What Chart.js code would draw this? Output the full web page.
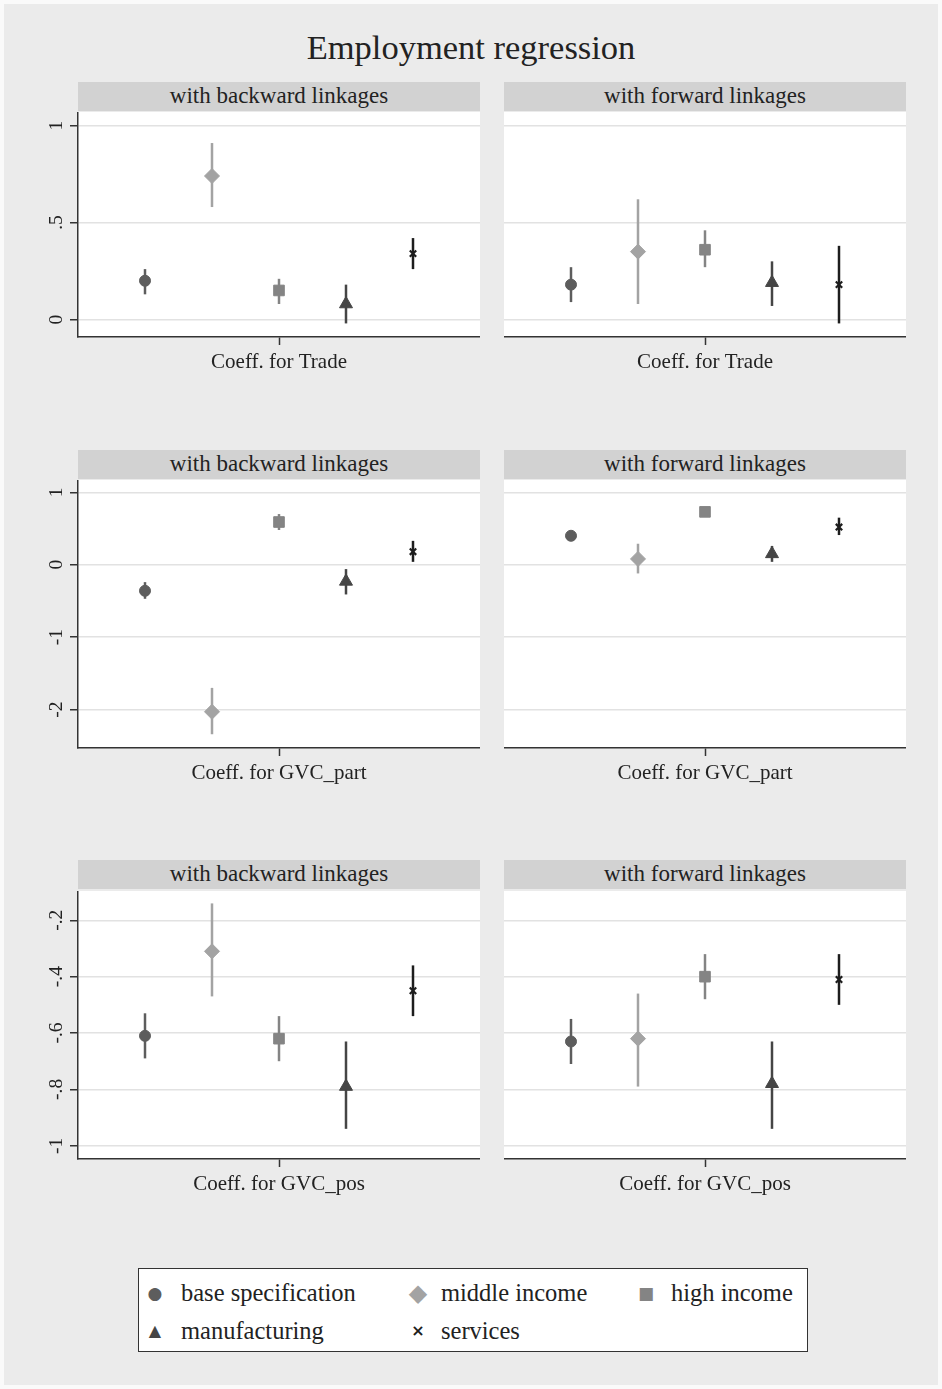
<!DOCTYPE html>
<html>
<head>
<meta charset="utf-8">
<title>Employment regression</title>
<script src="https://cdn.jsdelivr.net/npm/chart.js@4.4.0/dist/chart.umd.min.js"></script>
<style>
body { margin: 0; background: #fafafa; }
#page {
    position: absolute; left: 4px; top: 4px; width: 934px; height: 1381px;
    background: #ebebeb; font-family: "Liberation Serif", "Times New Roman", serif; color: #222;
}
#title { position: absolute; left: 0; width: 934px; top: 24px; text-align: center; font-size: 34.5px; }
.strip {
    position: absolute; height: 29px; background: #d2d2d2;
    text-align: center; font-size: 23px; line-height: 27px;
}
.panel { position: absolute; }
#legend {
    position: absolute; left: 134px; top: 1264px; width: 670px; height: 84px;
    background: #fff; border: 1.5px solid #333; box-sizing: border-box;
}
.mk { position: absolute; width: 30px; margin-left: -15px; text-align: center; font-family: "DejaVu Sans"; line-height: 30px; }
.lab { position: absolute; font-size: 24.5px; line-height: 30px; white-space: nowrap; }
</style>
</head>
<body>
<div id="page">
    <div id="title">Employment regression</div>

    <div class="strip" style="left:74px; width:402px; top:78px;">with backward linkages</div>
    <div class="strip" style="left:500px; width:402px; top:78px;">with forward linkages</div>
    <canvas class="panel" id="c1" width="450" height="270" style="left:26px; top:108px;"></canvas>
    <canvas class="panel" id="c2" width="402" height="270" style="left:500px; top:108px;"></canvas>

    <div class="strip" style="left:74px; width:402px; top:446px;">with backward linkages</div>
    <div class="strip" style="left:500px; width:402px; top:446px;">with forward linkages</div>
    <canvas class="panel" id="c3" width="450" height="313" style="left:26px; top:476px;"></canvas>
    <canvas class="panel" id="c4" width="402" height="313" style="left:500px; top:476px;"></canvas>

    <div class="strip" style="left:74px; width:402px; top:856px;">with backward linkages</div>
    <div class="strip" style="left:500px; width:402px; top:856px;">with forward linkages</div>
    <canvas class="panel" id="c5" width="450" height="313" style="left:26px; top:887px;"></canvas>
    <canvas class="panel" id="c6" width="402" height="313" style="left:500px; top:887px;"></canvas>

    <div id="legend"></div>
</div>

<script>
// series (one marker + interval per panel)
const seriesNames = ['base specification', 'middle income', 'high income', 'manufacturing', 'services'];
const seriesPos = [1, 2, 3, 4, 5];

// Coeff. for Trade
const tradeBackEst = [0.20, 0.74, 0.15, 0.08, 0.34];
const tradeBackLo  = [0.13, 0.58, 0.08, -0.02, 0.26];
const tradeBackHi  = [0.26, 0.91, 0.21, 0.18, 0.42];
const tradeFwdEst  = [0.18, 0.35, 0.36, 0.19, 0.18];
const tradeFwdLo   = [0.09, 0.08, 0.27, 0.07, -0.02];
const tradeFwdHi   = [0.27, 0.62, 0.46, 0.30, 0.38];

// Coeff. for GVC_part
const partBackEst = [-0.36, -2.03, 0.59, -0.23, 0.18];
const partBackLo  = [-0.47, -2.34, 0.48, -0.41, 0.04];
const partBackHi  = [-0.24, -1.70, 0.70, -0.06, 0.33];
const partFwdEst  = [0.40, 0.08, 0.73, 0.15, 0.52];
const partFwdLo   = [0.37, -0.12, 0.67, 0.04, 0.41];
const partFwdHi   = [0.44, 0.29, 0.79, 0.26, 0.65];

// Coeff. for GVC_pos
const posBackEst = [-0.61, -0.31, -0.62, -0.79, -0.45];
const posBackLo  = [-0.69, -0.47, -0.70, -0.94, -0.54];
const posBackHi  = [-0.53, -0.14, -0.54, -0.63, -0.36];
const posFwdEst  = [-0.63, -0.62, -0.40, -0.78, -0.41];
const posFwdLo   = [-0.71, -0.79, -0.48, -0.94, -0.50];
const posFwdHi   = [-0.55, -0.46, -0.32, -0.63, -0.32];

// tick values per row
const tradeTicks = [0, 0.5, 1];
const partTicks = [-2, -1, 0, 1];
const posTicks = [-1, -0.8, -0.6, -0.4, -0.2];

// marker looks
const seriesColors = ['#5d5d5d', '#a3a3a3', '#848484', '#454545', '#1d1d1d'];
const seriesShapes = ['circle', 'rectRot', 'rect', 'triangle', 'crossRot'];
const seriesRadius = [5.5, 7.5, 7.5, 7.5, 4.5];
const legendGlyphs = ['\u25CF', '\u25C6', '\u25A0', '\u25B2', '\u00D7'];
const legendGlyphSize = [17, 24, 17, 16, 16];

const AXIS = '#333';
const GRID = '#e2e2e2';
const SERIF = '"Liberation Serif", "Times New Roman", serif';

// stata style labels: .5, -.2
function fmtTick(v) {
    let s = String(Math.round(v * 100) / 100);
    return s.replace(/^0\./, '.').replace(/^-0\./, '-.');
}

// white plot region
const plotBg = {
    id: 'plotBg',
    beforeDraw(chart) {
        const a = chart.chartArea;
        const ctx = chart.ctx;
        ctx.save();
        ctx.fillStyle = '#ffffff';
        ctx.fillRect(a.left, a.top, a.right - a.left, a.bottom - a.top);
        ctx.restore();
    }
};

// confidence intervals drawn under the markers
const errorBars = {
    id: 'errorBars',
    beforeDatasetsDraw(chart) {
        const ctx = chart.ctx;
        const yScale = chart.scales.y;
        chart.data.datasets.forEach((ds, i) => {
            chart.getDatasetMeta(i).data.forEach((pt, j) => {
                ctx.save();
                ctx.strokeStyle = ds.borderColor;
                ctx.lineWidth = 2.5;
                ctx.beginPath();
                ctx.moveTo(pt.x, yScale.getPixelForValue(ds.lo[j]));
                ctx.lineTo(pt.x, yScale.getPixelForValue(ds.hi[j]));
                ctx.stroke();
                ctx.restore();
            });
        });
    }
};

// vertical y tick labels, reading bottom to top
const rotatedYLabels = {
    id: 'rotatedYLabels',
    afterDraw(chart, args, opts) {
        if (!opts.show) return;
        const ctx = chart.ctx;
        const s = chart.scales.y;
        ctx.save();
        ctx.font = '19.5px ' + SERIF;
        ctx.fillStyle = '#222';
        ctx.textAlign = 'center';
        ctx.textBaseline = 'middle';
        s.ticks.forEach(t => {
            ctx.save();
            ctx.translate(s.right - 21, s.getPixelForValue(t.value));
            ctx.rotate(-Math.PI / 2);
            ctx.fillText(fmtTick(t.value), 0, 0);
            ctx.restore();
        });
        ctx.restore();
    }
};

function makePanel(id, est, lo, hi, label, ticks, yMin, yMax, showY) {
    const datasets = seriesNames.map((name, i) => ({
        label: name,
        data: [{ x: seriesPos[i], y: est[i] }],
        lo: [lo[i]],
        hi: [hi[i]],
        pointStyle: seriesShapes[i],
        pointRadius: seriesRadius[i],
        backgroundColor: seriesColors[i],
        borderColor: seriesColors[i],
        borderWidth: i === 4 ? 2.2 : 1
    }));

    new Chart(document.getElementById(id), {
        type: 'scatter',
        data: { datasets: datasets },
        plugins: [plotBg, errorBars, rotatedYLabels],
        options: {
            responsive: false,
            animation: false,
            events: [],
            layout: { padding: 0, autoPadding: false },
            plugins: {
                legend: { display: false },
                tooltip: { enabled: false },
                rotatedYLabels: { show: showY }
            },
            scales: {
                x: {
                    type: 'linear',
                    min: 0,
                    max: 6,
                    afterBuildTicks: s => { s.ticks = [{ value: 3 }]; },
                    afterFit: s => { s.height = 45; },
                    ticks: {
                        callback: () => label,
                        font: { family: SERIF, size: 21 },
                        color: '#222',
                        padding: 5,
                        maxRotation: 0,
                        autoSkip: false
                    },
                    grid: { drawOnChartArea: false, drawTicks: true, tickLength: 8, tickColor: AXIS, tickWidth: 1.5 },
                    border: { color: AXIS, width: 1.5 }
                },
                y: {
                    type: 'linear',
                    min: yMin,
                    max: yMax,
                    afterBuildTicks: s => { s.ticks = ticks.map(v => ({ value: v })); },
                    afterFit: s => { s.width = showY ? 48 : 0; },
                    ticks: { display: false },
                    grid: { color: GRID, lineWidth: 1.5, drawTicks: showY, tickLength: 8, tickColor: AXIS, tickWidth: 1.5 },
                    border: { display: showY, color: AXIS, width: 1.5 }
                }
            }
        }
    });
}

makePanel('c1', tradeBackEst, tradeBackLo, tradeBackHi, 'Coeff. for Trade', tradeTicks, -0.09, 1.07, true);
makePanel('c2', tradeFwdEst, tradeFwdLo, tradeFwdHi, 'Coeff. for Trade', tradeTicks, -0.09, 1.07, false);
makePanel('c3', partBackEst, partBackLo, partBackHi, 'Coeff. for GVC_part', partTicks, -2.53, 1.17, true);
makePanel('c4', partFwdEst, partFwdLo, partFwdHi, 'Coeff. for GVC_part', partTicks, -2.53, 1.17, false);
makePanel('c5', posBackEst, posBackLo, posBackHi, 'Coeff. for GVC_pos', posTicks, -1.047, -0.096, true);
makePanel('c6', posFwdEst, posFwdLo, posFwdHi, 'Coeff. for GVC_pos', posTicks, -1.047, -0.096, false);

// legend: 3 columns, 2 rows
const legend = document.getElementById('legend');
const markX = [16, 279, 507];
const textX = [42, 302, 532];
const rowY = [9, 47];
seriesNames.forEach((name, i) => {
    const col = i % 3, row = Math.floor(i / 3);
    const mk = document.createElement('div');
    mk.className = 'mk';
    mk.style.left = markX[col] + 'px';
    mk.style.top = rowY[row] + 'px';
    mk.style.color = seriesColors[i];
    mk.style.fontSize = legendGlyphSize[i] + 'px';
    if (i === 4) mk.style.fontWeight = 'bold';
    mk.textContent = legendGlyphs[i];
    const lab = document.createElement('div');
    lab.className = 'lab';
    lab.style.left = textX[col] + 'px';
    lab.style.top = rowY[row] + 'px';
    lab.textContent = name;
    legend.appendChild(mk);
    legend.appendChild(lab);
});
</script>
</body>
</html>
